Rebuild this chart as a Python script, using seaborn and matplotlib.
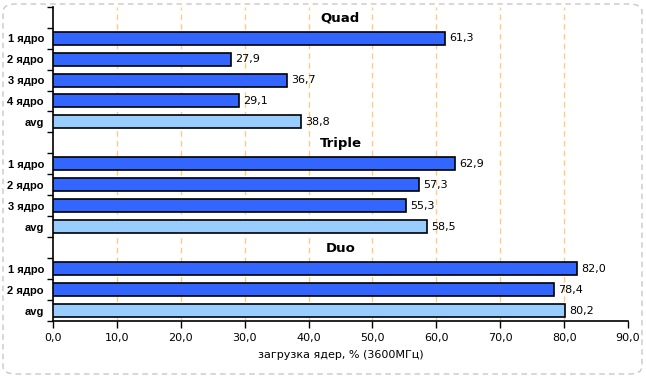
import matplotlib
matplotlib.use("Agg")
import matplotlib.pyplot as plt
import seaborn as sns
import pandas as pd
from matplotlib.patches import FancyBboxPatch

sns.set_theme(style="white")
plt.rcParams['font.family'] = ['DejaVu Sans']
plt.rcParams['text.color'] = 'black'
plt.rcParams['xtick.color'] = 'black'
plt.rcParams['ytick.color'] = 'black'
plt.rcParams['axes.labelcolor'] = 'black'

groups = ["Quad", "Triple", "Duo"]
quad_labels = ["1 ядро", "2 ядро", "3 ядро", "4 ядро", "avg"]
quad_values = [61.3, 27.9, 36.7, 29.1, 38.8]
triple_labels = ["1 ядро", "2 ядро", "3 ядро", "avg"]
triple_values = [62.9, 57.3, 55.3, 58.5]
duo_labels = ["1 ядро", "2 ядро", "avg"]
duo_values = [82.0, 78.4, 80.2]
x_ticks = [0, 10, 20, 30, 40, 50, 60, 70, 80, 90]
x_label = "загрузка ядер, % (3600МГц)"

rows, vals, kinds, order, tick_names, title_rows = [], [], [], [], [], []
for g, labs, vs in zip(groups, [quad_labels, triple_labels, duo_labels],
                       [quad_values, triple_values, duo_values]):
    order.append(f"{g}_title"); tick_names.append(""); title_rows.append((len(order) - 1, g))
    for l, v in zip(labs, vs):
        rid = f"{g}_{l}"
        order.append(rid); tick_names.append(l)
        rows.append(rid); vals.append(v); kinds.append("avg" if l == "avg" else "core")

df = pd.DataFrame({"row": rows, "value": vals, "kind": kinds})

fig = plt.figure(figsize=(6.46, 3.77), dpi=100)
W, H = 646, 377
ax = fig.add_axes([53 / W, 1 - 321 / H, (628 - 53) / W, (321 - 6.7) / H])

sns.barplot(data=df, x="value", y="row", hue="kind", order=order,
            palette={"core": "#3366FF", "avg": "#99CCFF"}, dodge=False, saturation=1,
            orient="h", width=0.62, edgecolor="black", linewidth=1.2,
            legend=False, ax=ax, zorder=3)

ax.set_xlim(0, 90)
ax.set_ylim(len(order) - 0.5, -0.5)
ax.set_xticks(x_ticks)
ax.set_xticklabels([f"{t:.1f}".replace(".", ",") for t in x_ticks], fontsize=8)
ax.set_yticks(range(len(order)))
ax.set_yticklabels(tick_names, fontsize=8, fontweight="bold", family="Liberation Sans")
ax.tick_params(axis="y", which="major", length=0, pad=6.5, left=False)
ax.set_yticks([i - 0.5 for i in range(len(order) + 1)], minor=True)
ax.tick_params(axis="y", which="minor", length=4, width=1, color="black",
               direction="out", left=True)
ax.tick_params(axis="x", length=5, width=1, color="black", direction="out",
               pad=4, bottom=True)
ax.set_ylabel("")
ax.set_xlabel(x_label, fontsize=8, labelpad=5)

for s in ["top", "right"]:
    ax.spines[s].set_visible(False)
for s in ["left", "bottom"]:
    ax.spines[s].set_color("black")
    ax.spines[s].set_linewidth(1.2)

for t in x_ticks[1:-1]:
    ax.axvline(t, color="#FFCC88", linestyle=(0, (4, 3)), linewidth=1, zorder=1)

for cont in ax.containers:
    ax.bar_label(cont, labels=[f"{v:.1f}".replace(".", ",") if v == v else "" for v in cont.datavalues],
                 padding=3, fontsize=8, color="black")

for idx, g in title_rows:
    ax.text(45, idx + 0.05, g, ha="center", va="center", fontsize=9.5,
            fontweight="bold", color="black")

border = FancyBboxPatch((3 / W, 3 / H), (W - 7) / W, (H - 7) / H,
                        boxstyle="round,pad=0,rounding_size=0.02",
                        transform=fig.transFigure, fill=False,
                        edgecolor="#C8C8C8", linestyle=(0, (4, 3)), linewidth=1)
fig.patches.append(border)

fig.savefig("out.png", dpi=100)
